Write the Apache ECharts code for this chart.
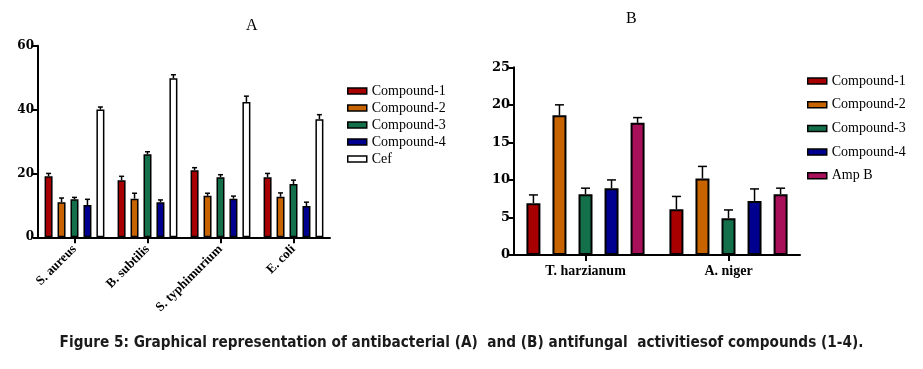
<!DOCTYPE html>
<html>
<head>
<meta charset="utf-8">
<script src="https://cdn.jsdelivr.net/npm/echarts@6/dist/echarts.min.js"></script>
<style>
html,body{margin:0;padding:0;background:#fff;}
#c{width:923px;height:369px;}
</style>
</head>
<body>
<div id="c"></div>
<script>
// ---- Chart A: antibacterial ----
const catsA = ['S. aureus', 'B. subtilis', 'S. typhimurium', 'E. coli'];
const namesA = ['Compound-1', 'Compound-2', 'Compound-3', 'Compound-4', 'Cef'];
const a_c1 = [19.1, 17.9, 21.0, 18.8];
const a_c2 = [11.0, 12.1, 13.0, 12.7];
const a_c3 = [11.9, 26.0, 18.8, 16.7];
const a_c4 = [10.1, 11.0, 12.1, 9.8];
const a_cef = [40.0, 49.8, 42.4, 37.0];
const a_c1_err = [20.0, 19.1, 21.8, 20.0];
const a_c2_err = [12.3, 13.8, 13.8, 13.9];
const a_c3_err = [12.5, 26.8, 19.6, 17.9];
const a_c4_err = [11.9, 11.7, 12.9, 11.0];
const a_cef_err = [40.8, 50.9, 44.2, 38.4];
const ticksA = [0, 20, 40, 60];

// ---- Chart B: antifungal ----
const catsB = ['T. harzianum', 'A. niger'];
const namesB = ['Compound-1', 'Compound-2', 'Compound-3', 'Compound-4', 'Amp B'];
const b_c1 = [6.9, 6.1];
const b_c2 = [18.6, 10.2];
const b_c3 = [8.1, 4.9];
const b_c4 = [8.9, 7.2];
const b_amp = [17.6, 8.1];
const b_c1_err = [8.0, 7.8];
const b_c2_err = [20.0, 11.8];
const b_c3_err = [8.9, 6.0];
const b_c4_err = [10.0, 8.8];
const b_amp_err = [18.3, 8.9];
const ticksB = [0, 5, 10, 15, 20, 25];

const colorsA = ['#a80000', '#c86400', '#13704a', '#000090', '#ffffff'];
const colorsB = ['#a80000', '#c86400', '#13704a', '#000090', '#a8105a'];

const valsA = [a_c1, a_c2, a_c3, a_c4, a_cef];
const errsA = [a_c1_err, a_c2_err, a_c3_err, a_c4_err, a_cef_err];
const valsB = [b_c1, b_c2, b_c3, b_c4, b_amp];
const errsB = [b_c1_err, b_c2_err, b_c3_err, b_c4_err, b_amp_err];

const SERIF = '"Liberation Serif","DejaVu Serif",serif';
const NUMSERIF = '"DejaVu Serif","Liberation Serif",serif';
const chart = echarts.init(document.getElementById('c'));

function axisCommon() {
  return {
    axisLine: {show: true, lineStyle: {color: '#000', width: 2}},
    axisTick: {show: true, lineStyle: {color: '#000', width: 2}},
    splitLine: {show: false}
  };
}

function makeSeries(names, vals, errs, colors, gridIdx, barW, gapFrac, borderW, capW) {
  const out = [];
  const n = names.length;
  const pitch = barW * (1 + gapFrac);
  names.forEach((nm, i) => {
    out.push({
      name: nm, type: 'bar', xAxisIndex: gridIdx, yAxisIndex: gridIdx,
      barWidth: barW, barGap: (gapFrac * 100) + '%',
      itemStyle: {color: colors[i], borderColor: '#000', borderWidth: borderW},
      data: vals[i], z: 3
    });
    const offset = (i - (n - 1) / 2) * pitch;
    out.push({
      type: 'custom', xAxisIndex: gridIdx, yAxisIndex: gridIdx, z: 2, silent: true,
      data: vals[i].map((v, k) => [k, v, errs[i][k]]),
      renderItem: function (params, api) {
        const p0 = api.coord([api.value(0), api.value(1)]);
        const p1 = api.coord([api.value(0), api.value(2)]);
        const x = p0[0] + offset;
        return {
          type: 'group',
          children: [
            {type: 'line', shape: {x1: x, y1: p0[1], x2: x, y2: p1[1]}, style: {stroke: '#000', lineWidth: 1.5}},
            {type: 'line', shape: {x1: x - capW / 2, y1: p1[1], x2: x + capW / 2, y2: p1[1]}, style: {stroke: '#000', lineWidth: 1.5}}
          ]
        };
      }
    });
  });
  return out;
}

function legendData(names, colors) {
  return names.map((nm, i) => ({name: nm, itemStyle: {color: colors[i], borderColor: '#000', borderWidth: 1.5}}));
}

const option = {
  animation: false,
  backgroundColor: '#fff',
  grid: [
    {left: 38, right: 593, top: 45.7, bottom: 131.7, containLabel: false, outerBoundsMode: 'none'},
    {left: 514, right: 123, top: 67.3, bottom: 114, containLabel: false, outerBoundsMode: 'none'}
  ],
  xAxis: [
    Object.assign(axisCommon(), {
      type: 'category', gridIndex: 0, data: catsA,
      axisTick: {show: true, alignWithLabel: true, length: 6, lineStyle: {color: '#000', width: 2}},
      axisLabel: {rotate: 45, margin: 10, color: '#000', fontFamily: SERIF, fontWeight: 'bold', fontSize: 13, interval: 0}
    }),
    Object.assign(axisCommon(), {
      type: 'category', gridIndex: 1, data: catsB,
      axisTick: {show: true, alignWithLabel: true, length: 6, lineStyle: {color: '#000', width: 2}},
      axisLabel: {margin: 9, color: '#000', fontFamily: SERIF, fontWeight: 'bold', fontSize: 14, interval: 0}
    })
  ],
  yAxis: [
    Object.assign(axisCommon(), {
      type: 'value', gridIndex: 0, min: ticksA[0], max: ticksA[ticksA.length - 1], interval: 20,
      axisTick: {show: true, length: 5, lineStyle: {color: '#000', width: 2}},
      axisLabel: {color: '#000', fontFamily: NUMSERIF, fontWeight: 'bold', fontSize: 12, margin: 4}
    }),
    Object.assign(axisCommon(), {
      type: 'value', gridIndex: 1, min: ticksB[0], max: ticksB[ticksB.length - 1], interval: 5,
      axisTick: {show: true, length: 5, lineStyle: {color: '#000', width: 2}},
      axisLabel: {color: '#000', fontFamily: NUMSERIF, fontWeight: 'bold', fontSize: 13, margin: 4}
    })
  ],
  legend: [
    {
      orient: 'vertical', left: 342, top: 78, icon: 'rect', itemWidth: 19, itemHeight: 6, itemGap: 1,
      data: legendData(namesA, colorsA), selectedMode: false,
      textStyle: {color: '#000', fontFamily: SERIF, fontSize: 14, lineHeight: 16}
    },
    {
      orient: 'vertical', left: 802, top: 68, icon: 'rect', itemWidth: 19, itemHeight: 6, itemGap: 7.7,
      data: legendData(namesB, colorsB), selectedMode: false,
      textStyle: {color: '#000', fontFamily: SERIF, fontSize: 14, lineHeight: 16}
    }
  ],
  graphic: [
    {type: 'text', left: 246, top: 18, style: {text: 'A', fill: '#000', font: '16px ' + SERIF}},
    {type: 'text', left: 626, top: 11, style: {text: 'B', fill: '#000', font: '16px ' + SERIF}},
    {type: 'text', left: 'center', top: 336, style: {text: 'Figure 5: Graphical representation of antibacterial (A)  and (B) antifungal  activitiesof compounds (1-4).', fill: '#1a1a1a', font: 'bold 15.2px "Liberation Sans Narrow","DejaVu Sans Condensed","Open Sans",sans-serif'}}
  ],
  series: [].concat(
    makeSeries(namesA, valsA, errsA, colorsA, 0, 8, 0.62, 1.5, 5),
    makeSeries(namesB, valsB, errsB, colorsB, 1, 14, 0.86, 2, 9)
  )
};
chart.setOption(option);
</script>
</body>
</html>
